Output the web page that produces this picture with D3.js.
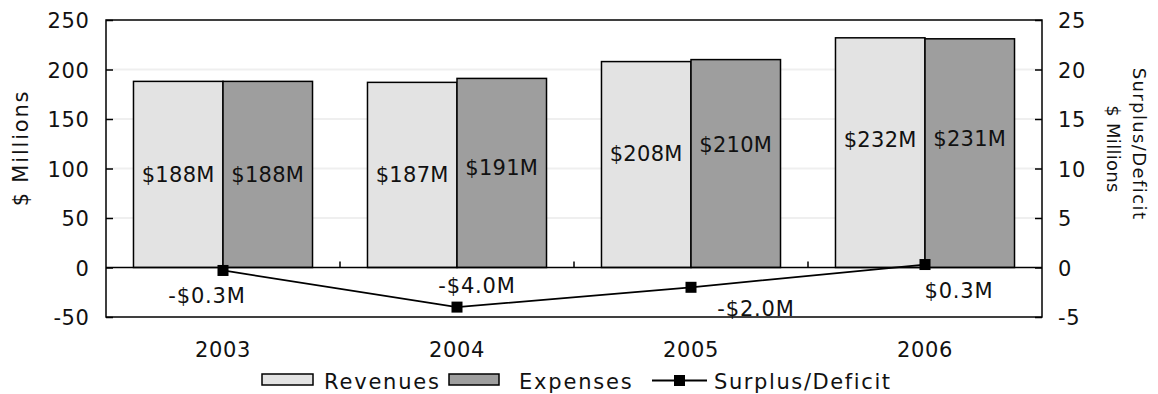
<!DOCTYPE html>
<html>
<head>
<meta charset="utf-8">
<script src="https://cdn.jsdelivr.net/npm/d3@7/dist/d3.min.js"></script>
<style>
  html, body { margin: 0; padding: 0; background: #fff; }
  svg { display: block; font-family: "DejaVu Sans", Verdana, sans-serif; }
</style>
</head>
<body>
<svg id="chart" width="1158" height="394"></svg>
<script>
// Fiscal years and series values ($ millions)
const years = ["2003", "2004", "2005", "2006"];
const revenues = [188, 187, 208, 232];
const expenses = [188, 191, 210, 231];
const surplus = [-0.3, -4.0, -2.0, 0.3];
const leftTicks = [-50, 0, 50, 100, 150, 200, 250];
const rightTicks = [-5, 0, 5, 10, 15, 20, 25];
const seriesNames = ["Revenues", "Expenses", "Surplus/Deficit"];

// Label nudges (px) so the value labels sit clear of each other
const barLabelNudge = [[0, 0], [0, -6], [-11, -19], [-13, -15]];
const lineLabelNudge = [[-16, 25], [20, -22], [65, 21], [34, 26]];

const svg = d3.select("#chart");
const plot = { left: 106, right: 1042, top: 20, bottom: 317 };
const FONT = 21;
const plain = d => String(d);

const x = d3.scaleBand().domain(years).range([plot.left, plot.right]).padding(0);
const inner = d3.scaleBand().domain(["rev", "exp"]).range([0, x.bandwidth()])
  .paddingInner(0).paddingOuter(0.307);
const yL = d3.scaleLinear().domain([-50, 250]).range([plot.bottom, plot.top]);
const yR = d3.scaleLinear().domain([-5, 25]).range([plot.bottom, plot.top]);

const fillRev = "#e3e3e3", fillExp = "#9e9e9e";

// gridlines
svg.append("g").selectAll("line")
  .data(leftTicks.filter(t => t > 0 && t < 250))
  .join("line")
  .attr("x1", plot.left).attr("x2", plot.right)
  .attr("y1", d => yL(d)).attr("y2", d => yL(d))
  .attr("stroke", "#efefef").attr("stroke-width", 2);

// bars
const rows = years.map((yr, i) => ({ yr, i, rev: revenues[i], exp: expenses[i] }));
const groups = svg.append("g").selectAll("g").data(rows).join("g")
  .attr("transform", d => `translate(${x(d.yr)},0)`);

groups.append("rect")
  .attr("x", inner("rev")).attr("width", inner.bandwidth())
  .attr("y", d => yL(d.rev)).attr("height", d => yL(0) - yL(d.rev))
  .attr("fill", fillRev).attr("stroke", "#000").attr("stroke-width", 1.5);
groups.append("rect")
  .attr("x", inner("exp")).attr("width", inner.bandwidth())
  .attr("y", d => yL(d.exp)).attr("height", d => yL(0) - yL(d.exp))
  .attr("fill", fillExp).attr("stroke", "#000").attr("stroke-width", 1.5);

groups.append("text")
  .attr("x", inner("rev") + inner.bandwidth() / 2)
  .attr("y", d => yL(d.rev / 2) + barLabelNudge[d.i][0])
  .attr("dy", "0.36em").attr("text-anchor", "middle")
  .attr("font-size", FONT).attr("letter-spacing", 0.3).attr("fill", "#111")
  .text(d => `$${d.rev}M`);
groups.append("text")
  .attr("x", inner("exp") + inner.bandwidth() / 2)
  .attr("y", d => yL(d.exp / 2) + barLabelNudge[d.i][1])
  .attr("dy", "0.36em").attr("text-anchor", "middle")
  .attr("font-size", FONT).attr("letter-spacing", 0.3).attr("fill", "#111")
  .text(d => `$${d.exp}M`);

// plot frame
svg.append("rect")
  .attr("x", plot.left).attr("y", plot.top)
  .attr("width", plot.right - plot.left).attr("height", plot.bottom - plot.top)
  .attr("fill", "none").attr("stroke", "#000").attr("stroke-width", 1.5);

// zero line with category separators
svg.append("line")
  .attr("x1", plot.left).attr("x2", plot.right)
  .attr("y1", yL(0)).attr("y2", yL(0))
  .attr("stroke", "#000").attr("stroke-width", 1.5);
svg.append("g").selectAll("line").data(years.slice(1)).join("line")
  .attr("x1", d => x(d)).attr("x2", d => x(d))
  .attr("y1", yL(0) - 6).attr("y2", yL(0))
  .attr("stroke", "#000").attr("stroke-width", 1.5);

// left axis
const axL = svg.append("g").attr("transform", `translate(${plot.left},0)`)
  .call(d3.axisRight(yL).tickValues(leftTicks).tickSize(7).tickFormat(plain));
axL.select(".domain").remove();
axL.selectAll("line").attr("stroke", "#000").attr("stroke-width", 1.5);
axL.selectAll("text")
  .attr("x", -16.5).attr("text-anchor", "end").attr("dy", "0.36em")
  .attr("font-size", FONT).attr("letter-spacing", 0.6).attr("fill", "#111")
  .style("font-family", "DejaVu Sans, Verdana, sans-serif");

// right axis
const axR = svg.append("g").attr("transform", `translate(${plot.right},0)`)
  .call(d3.axisLeft(yR).tickValues(rightTicks).tickSize(7).tickFormat(plain));
axR.select(".domain").remove();
axR.selectAll("line").attr("stroke", "#000").attr("stroke-width", 1.5);
axR.selectAll("text")
  .attr("x", 16).attr("text-anchor", "start").attr("dy", "0.36em")
  .attr("font-size", FONT).attr("letter-spacing", 0.6).attr("fill", "#111")
  .style("font-family", "DejaVu Sans, Verdana, sans-serif");

// category axis labels
const axB = svg.append("g").attr("transform", `translate(0,${plot.bottom})`)
  .call(d3.axisBottom(x).tickSize(0).tickPadding(0));
axB.select(".domain").remove();
axB.selectAll("text")
  .attr("y", 39.5).attr("dy", 0)
  .attr("font-size", FONT).attr("letter-spacing", 0.6).attr("fill", "#111")
  .style("font-family", "DejaVu Sans, Verdana, sans-serif");

// surplus / deficit line
const pts = years.map((yr, i) => ({ yr, i, v: surplus[i] }));
const cx = d => x(d.yr) + x.bandwidth() / 2;
svg.append("path").datum(pts)
  .attr("d", d3.line().x(cx).y(d => yR(d.v)))
  .attr("fill", "none").attr("stroke", "#000").attr("stroke-width", 1.8);
svg.append("g").selectAll("rect").data(pts).join("rect")
  .attr("x", d => cx(d) - 5.5).attr("y", d => yR(d.v) - 5.5)
  .attr("width", 11).attr("height", 11).attr("fill", "#000");
const fmtM = v => (v < 0 ? "-" : "") + "$" + Math.abs(v).toFixed(1) + "M";
svg.append("g").selectAll("text").data(pts).join("text")
  .attr("x", d => cx(d) + lineLabelNudge[d.i][0])
  .attr("y", d => yR(d.v) + lineLabelNudge[d.i][1])
  .attr("dy", "0.36em").attr("text-anchor", "middle")
  .attr("font-size", FONT).attr("letter-spacing", 0.8).attr("fill", "#111")
  .text(d => fmtM(d.v));

// axis titles
svg.append("text")
  .attr("transform", "translate(28,148) rotate(-90)")
  .attr("text-anchor", "middle").attr("font-size", FONT)
  .attr("letter-spacing", 1.8).attr("fill", "#111")
  .text("$ Millions");
svg.append("text")
  .attr("transform", "translate(1133,144) rotate(90)")
  .attr("text-anchor", "middle").attr("font-size", 18)
  .attr("letter-spacing", 1.4).attr("fill", "#111")
  .text("Surplus/Deficit");
svg.append("text")
  .attr("transform", "translate(1107,149) rotate(90)")
  .attr("text-anchor", "middle").attr("font-size", 18)
  .attr("letter-spacing", 0.3).attr("fill", "#111")
  .text("$ Millions");

// legend
const legend = svg.append("g");
const legY = 389;
legend.append("rect").attr("x", 262).attr("y", 374).attr("width", 51).attr("height", 11)
  .attr("fill", fillRev).attr("stroke", "#000").attr("stroke-width", 1.5);
legend.append("text").attr("x", 324).attr("y", legY)
  .attr("font-size", FONT).attr("letter-spacing", 1.8).attr("fill", "#111")
  .text(seriesNames[0]);
legend.append("rect").attr("x", 449).attr("y", 374).attr("width", 50).attr("height", 11)
  .attr("fill", fillExp).attr("stroke", "#000").attr("stroke-width", 1.5);
legend.append("text").attr("x", 519).attr("y", legY)
  .attr("font-size", FONT).attr("letter-spacing", 1.8).attr("fill", "#111")
  .text(seriesNames[1]);
legend.append("line").attr("x1", 652).attr("x2", 707).attr("y1", 380.5).attr("y2", 380.5)
  .attr("stroke", "#000").attr("stroke-width", 1.8);
legend.append("rect").attr("x", 674).attr("y", 375).attr("width", 11).attr("height", 11)
  .attr("fill", "#000");
legend.append("text").attr("x", 714).attr("y", legY)
  .attr("font-size", FONT).attr("letter-spacing", 1.6).attr("fill", "#111")
  .text(seriesNames[2]);
</script>
</body>
</html>
